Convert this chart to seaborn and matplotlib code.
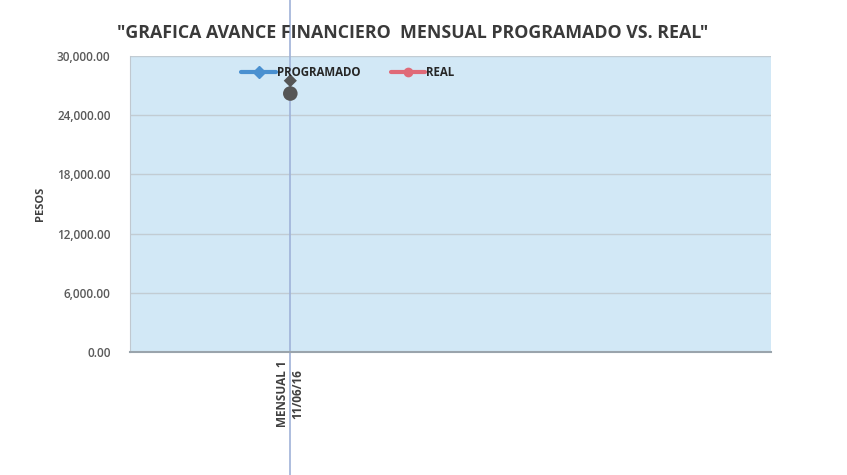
import pandas as pd
import matplotlib
matplotlib.use('Agg')
import matplotlib.pyplot as plt
from matplotlib.lines import Line2D
import seaborn as sns

# datos
periodos = ['MENSUAL 1\n11/06/16', '']
programado = [27500, None]
real = [26200, None]
yticks = [0, 6000, 12000, 18000, 24000, 30000]

sns.set_style('white')
plt.rcParams['font.family'] = ['Open Sans', 'DejaVu Sans']

df = pd.DataFrame({'periodo': periodos, 'PROGRAMADO': programado, 'REAL': real})
largo = df.melt(id_vars='periodo', var_name='serie', value_name='pesos').dropna()

fig = plt.figure(figsize=(8.47, 4.75), dpi=100)
ax = fig.add_axes([0.1535, 0.259, 0.757, 0.623])
ax.set_facecolor('#d2e8f6')

# líneas de cuadrícula
for v in yticks:
    ax.axhline(v, color='#c2ccd3', lw=1, zorder=0)

sns.scatterplot(data=largo[largo.serie == 'PROGRAMADO'], x='periodo', y='pesos',
                marker='D', s=45, color='#555555', edgecolor='none', ax=ax, zorder=3)
sns.scatterplot(data=largo[largo.serie == 'REAL'], x='periodo', y='pesos',
                marker='o', s=110, color='#555555', edgecolor='none', ax=ax, zorder=3)

ax.set_xticks(range(len(periodos)))
ax.set_xticklabels(periodos, rotation=90, fontsize=8.5, color='#404040',
                   fontweight='bold', va='top')
ax.set_xlim(-0.5, len(periodos) - 0.5)
ax.set_ylim(0, 30000)
ax.set_yticks(yticks)
ax.set_yticklabels([f'{v:,.2f}' for v in yticks], fontsize=8.5, color='#5a5a5a',
                   fontweight='semibold')
ax.tick_params(axis='y', length=4, color='#a0a0a0', pad=10)
ax.tick_params(axis='x', length=0, pad=6)
ax.set_xlabel('')
ax.set_ylabel('PESOS', fontsize=8, fontweight='bold', color='#404040', labelpad=8)

for lado in ['top', 'right']:
    ax.spines[lado].set_visible(False)
ax.spines['left'].set_color('#c0c8d0')
ax.spines['bottom'].set_color('#9aa4ac')
ax.spines['bottom'].set_linewidth(1.5)

# línea vertical del escaneo sobre la categoría
ax.axvline(0, ymin=-1.2, ymax=1.2, color='#9fb2d8', lw=1.2, clip_on=False, zorder=2)

handles = [
    Line2D([], [], color='#4a90d0', lw=3, marker='D', markersize=6),
    Line2D([], [], color='#e06a78', lw=3, marker='o', markersize=6),
]
ax.legend(handles, ['PROGRAMADO', 'REAL'], loc='upper center',
          bbox_to_anchor=(0.34, 1.0), ncol=2, frameon=False,
          columnspacing=2.6, handlelength=3.0, handletextpad=0.1,
          prop={'weight': 'bold', 'size': 8.3})

fig.text(0.487, 0.92, '"GRAFICA AVANCE FINANCIERO  MENSUAL PROGRAMADO VS. REAL"',
         ha='center', fontsize=12.8, fontweight='bold', color='#3a3a3a')

fig.savefig('out.png', dpi=100)
